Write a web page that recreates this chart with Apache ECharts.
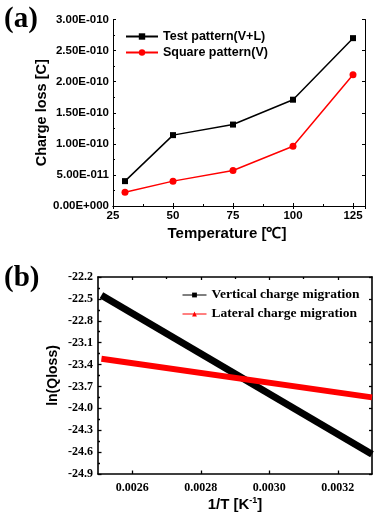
<!DOCTYPE html>
<html>
<head>
<meta charset="utf-8">
<script src="https://cdn.jsdelivr.net/npm/echarts@6/dist/echarts.min.js"></script>
<style>
html,body{margin:0;padding:0;background:#fff;}
#c{width:386px;height:521px;}
</style>
</head>
<body>
<div id="c"></div>
<script>
// ---- Panel (a) data ----
var temps = [30, 50, 75, 100, 125];
var testPattern = [4.0e-11, 1.14e-10, 1.31e-10, 1.71e-10, 2.70e-10];
var squarePattern = [2.2e-11, 4.0e-11, 5.7e-11, 9.6e-11, 2.11e-10];
// ---- Panel (b) data (fitted lines, end points) ----
var invT = [0.00251, 0.0033];
var verticalLn = [-22.45, -24.63];
var lateralLn = [-23.32, -23.85];
var bMajorTicks = [0.0026, 0.0028, 0.0030, 0.0032];
var bMinorTicks = [0.0027, 0.0029, 0.0031];

function pairs(xs, ys){ return xs.map(function(x,i){ return [x, ys[i]]; }); }
function sci(v){
  if (Math.abs(v) < 1e-20) return '0.00E+000';
  var s = v.toExponential(2).split('e');
  var n = parseInt(s[1], 10);
  return s[0] + 'E' + (n < 0 ? '-' : '+') + String(Math.abs(n)).padStart(3, '0');
}

var SANS = 'Liberation Sans';
var SERIF = 'Liberation Serif';
var black = '#000';

var chart = echarts.init(document.getElementById('c'), null, {renderer:'canvas'});
var option = {
  backgroundColor: '#fff',
  animation: false,
  grid: [
    {left: 113, right: 21, top: 19.5, height: 186.5},
    {left: 98, right: 14, top: 277, height: 197}
  ],
  graphic: [
    {type:'text', left: 4, top: 5, style:{text:'(a)', font:'bold 29px "Liberation Serif"', fill: black}},
    {type:'text', left: 4, top: 264, style:{text:'(b)', font:'bold 29px "Liberation Serif"', fill: black}}
  ],
  legend: [
    {
      orient: 'vertical', left: 125, top: 30, padding: 0, itemGap: 3,
      itemWidth: 32, itemHeight: 8,
      textStyle: {fontFamily: SANS, fontWeight: 'bold', fontSize: 12.5, color: black},
      lineStyle: {width: 2},
      data: ['Test pattern(V+L)', 'Square pattern(V)']
    },
    {
      orient: 'vertical', left: 182, top: 288, padding: 0, itemGap: 5,
      itemWidth: 24, itemHeight: 6,
      textStyle: {fontFamily: SERIF, fontWeight: 'bold', fontSize: 13.5, color: black},
      lineStyle: {width: 1},
      data: ['Vertical charge migration', 'Lateral charge migration']
    }
  ],
  xAxis: [
    {
      gridIndex: 0, type: 'value', min: 25, max: 130, interval: 25,
      name: 'Temperature [℃]', nameLocation: 'middle', nameGap: 20,
      nameTextStyle: {fontFamily: SANS, fontWeight: 'bold', fontSize: 15, color: black, padding: [0, 24, 0, 0]},
      axisLine: {show: true, lineStyle: {color: black, width: 1}},
      axisTick: {show: true, inside: true, length: 3, lineStyle: {color: black}},
      minorTick: {show: true, splitNumber: 2, length: 2, lineStyle: {color: black}},
      splitLine: {show: false},
      axisLabel: {margin: 4, fontFamily: SANS, fontWeight: 'bold', fontSize: 11.5, color: black, showMaxLabel: false,
        formatter: function(v){ return (v % 25 === 0) ? String(v) : ''; }}
    },
    {
      gridIndex: 0, type: 'value', position: 'top', min: 25, max: 130, interval: 25,
      axisLine: {show: true, lineStyle: {color: black, width: 1}},
      axisTick: {show: true, inside: true, length: 3, lineStyle: {color: black}},
      splitLine: {show: false}, axisLabel: {show: false}
    },
    {
      gridIndex: 1, type: 'value', min: 0.0025, max: 0.0033, interval: 0.0001,
      name: '1/T [K{sup|-1}]', nameLocation: 'middle', nameGap: 22,
      nameTextStyle: {fontFamily: SANS, fontWeight: 'bold', fontSize: 15, color: black,
        rich: {sup: {fontFamily: SANS, fontWeight: 'bold', fontSize: 9, color: black, verticalAlign: 'top', padding: [0,0,8,0]}}},
      axisLine: {show: true, lineStyle: {color: black, width: 1.6}},
      axisTick: {show: true, inside: true, length: 3.5, lineStyle: {color: black, width: 1.3}, customValues: bMajorTicks},
      splitLine: {show: false},
      axisLabel: {margin: 8, fontFamily: SERIF, fontWeight: 'bold', fontSize: 12, color: black, customValues: bMajorTicks,
        formatter: function(v){ return v.toFixed(4); }}
    },
    {
      gridIndex: 1, type: 'value', min: 0.0025, max: 0.0033, interval: 0.0001,
      axisLine: {show: false},
      axisTick: {show: true, inside: true, length: 2, lineStyle: {color: black, width: 1.3}, customValues: bMinorTicks},
      splitLine: {show: false}, axisLabel: {show: false}
    },
    {
      gridIndex: 1, type: 'value', position: 'top', min: 0.0025, max: 0.0033, interval: 0.0001,
      axisLine: {show: true, lineStyle: {color: black, width: 1.6}},
      axisTick: {show: true, inside: true, length: 3, lineStyle: {color: black, width: 1.3}, customValues: bMajorTicks},
      splitLine: {show: false}, axisLabel: {show: false}
    }
  ],
  yAxis: [
    {
      gridIndex: 0, type: 'value', min: 0, max: 3e-10, interval: 5e-11,
      name: 'Charge loss [C]', nameLocation: 'middle', nameGap: 64, nameMoveOverlap: false,
      nameTextStyle: {fontFamily: SANS, fontWeight: 'bold', fontSize: 14.5, color: black},
      axisLine: {show: true, lineStyle: {color: black, width: 1}},
      axisTick: {show: true, inside: true, length: 3, lineStyle: {color: black}},
      minorTick: {show: true, splitNumber: 2, length: 2, lineStyle: {color: black}},
      splitLine: {show: false},
      axisLabel: {margin: 4, fontFamily: SANS, fontWeight: 'bold', fontSize: 11.5, color: black, formatter: sci}
    },
    {
      gridIndex: 0, type: 'value', position: 'right', min: 0, max: 3e-10, interval: 5e-11,
      axisLine: {show: true, lineStyle: {color: black, width: 1}},
      axisTick: {show: true, inside: true, length: 3, lineStyle: {color: black}},
      splitLine: {show: false}, axisLabel: {show: false}
    },
    {
      gridIndex: 1, type: 'value', min: -24.9, max: -22.2, interval: 0.3,
      name: 'ln(Qloss)', nameLocation: 'middle', nameGap: 38, nameMoveOverlap: false,
      nameTextStyle: {fontFamily: SANS, fontWeight: 'bold', fontSize: 14, color: black},
      axisLine: {show: true, lineStyle: {color: black, width: 1.6}},
      axisTick: {show: true, inside: true, length: 3.5, lineStyle: {color: black, width: 1.3}},
      minorTick: {show: true, splitNumber: 2, length: 2, lineStyle: {color: black, width: 1.3}},
      splitLine: {show: false},
      axisLabel: {margin: 5, fontFamily: SERIF, fontWeight: 'bold', fontSize: 12, color: black,
        formatter: function(v){ return v.toFixed(1); }}
    },
    {
      gridIndex: 1, type: 'value', position: 'right', min: -24.9, max: -22.2, interval: 0.3,
      axisLine: {show: true, lineStyle: {color: black, width: 1.6}},
      axisTick: {show: true, inside: true, length: 3, lineStyle: {color: black, width: 1.3}},
      splitLine: {show: false}, axisLabel: {show: false}
    }
  ],
  series: [
    {
      name: 'Test pattern(V+L)', type: 'line', xAxisIndex: 0, yAxisIndex: 0,
      data: pairs(temps, testPattern), symbol: 'rect', symbolSize: 6,
      lineStyle: {color: black, width: 1.5}, itemStyle: {color: black}
    },
    {
      name: 'Square pattern(V)', type: 'line', xAxisIndex: 0, yAxisIndex: 0,
      data: pairs(temps, squarePattern), symbol: 'circle', symbolSize: 7,
      lineStyle: {color: '#ff0000', width: 1.5}, itemStyle: {color: '#ff0000'}
    },
    {
      name: 'Vertical charge migration', type: 'line', xAxisIndex: 2, yAxisIndex: 2,
      data: pairs(invT, verticalLn), symbol: 'rect', symbolSize: 4, showSymbol: false,
      lineStyle: {color: black, width: 7}, itemStyle: {color: black}
    },
    {
      name: 'Lateral charge migration', type: 'line', xAxisIndex: 2, yAxisIndex: 2,
      data: pairs(invT, lateralLn), symbol: 'triangle', symbolSize: 6, showSymbol: false,
      lineStyle: {color: '#ff0000', width: 6}, itemStyle: {color: '#ff0000'}
    }
  ]
};
chart.setOption(option);
</script>
</body>
</html>
